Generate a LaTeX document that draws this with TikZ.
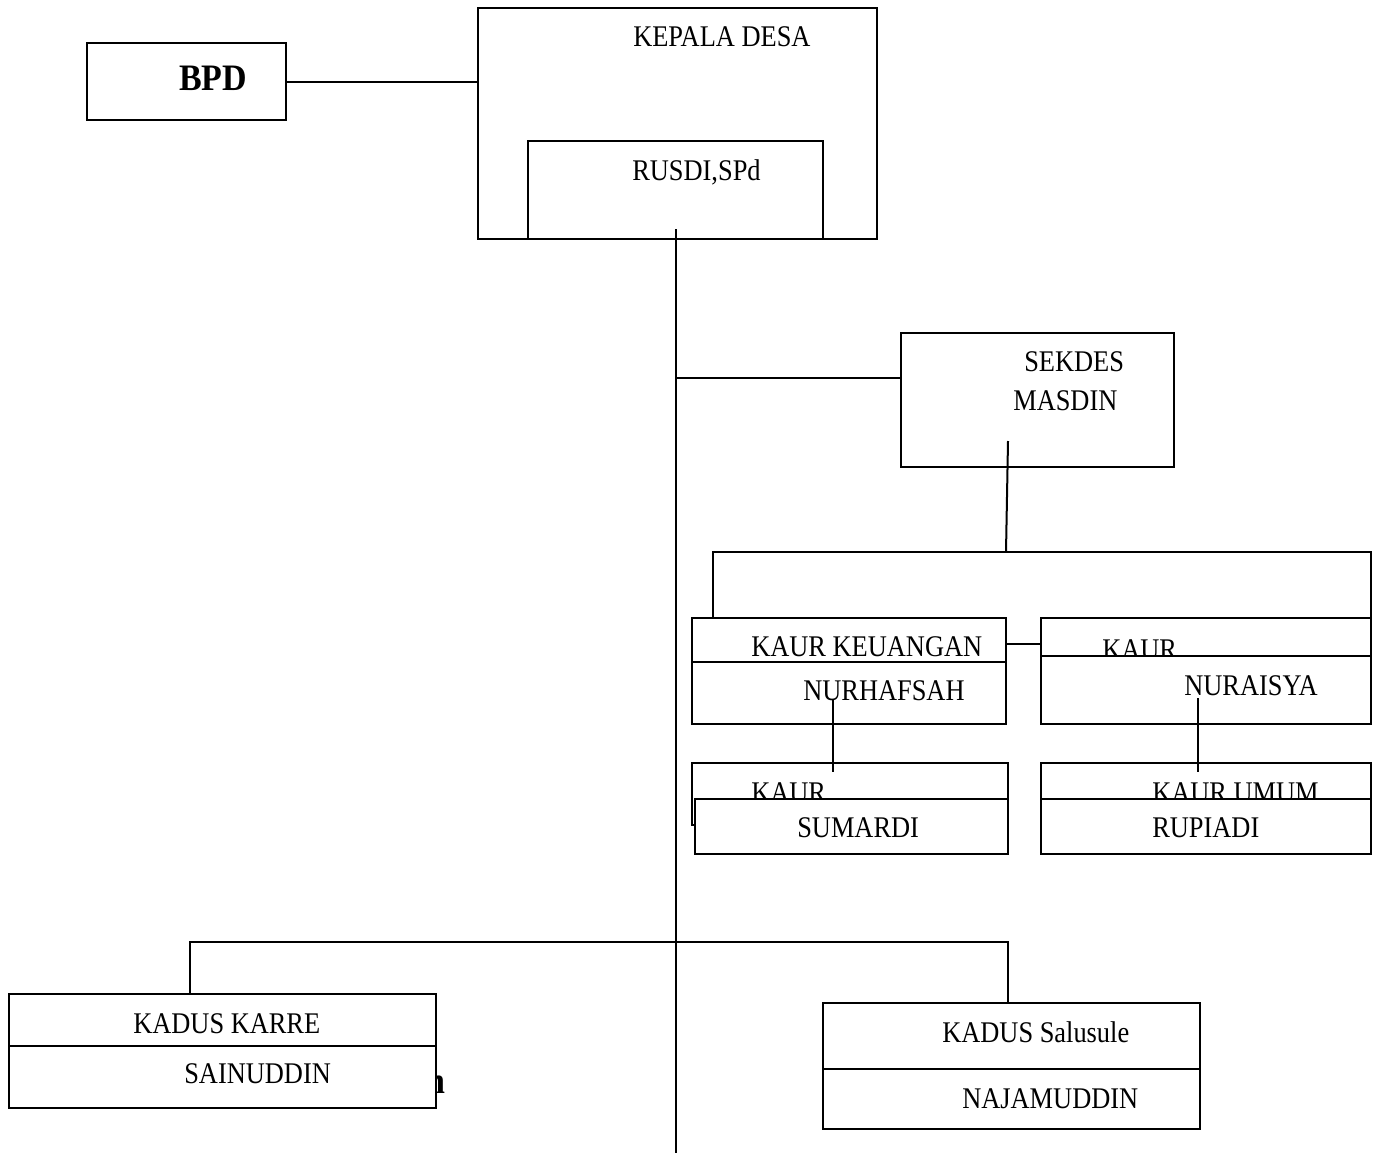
\documentclass[tikz,border=0pt]{standalone}
\usepackage{fontspec}
\setmainfont{Liberation Serif}[FakeStretch=0.88]
\newfontfamily\hurufbpd{Liberation Serif}[FakeStretch=0.91]
\usetikzlibrary{fit}

\begin{document}
\begin{tikzpicture}[x=0.75pt, y=-0.75pt,
    kotak/.style={draw, line width=1.5pt, inner sep=0pt, fill=white},
    teks/.style={anchor=base west, inner sep=0pt, font=\fontsize{22.5}{27}\selectfont},
    garis/.style={line width=1.5pt}]
    \useasboundingbox (0,0) rectangle (1381,1153);

    % Kepala desa
    \node[kotak, fit={(478,8) (877,239)}] (kades) {};
    \node[teks] (kadesteks) at (633,46) {KEPALA DESA};
    \node[kotak, fit={(528,141) (823,239)}] (rusdi) {};
    \node[teks] (rusditeks) at (632,180) {RUSDI,SPd};

    % BPD
    \node[kotak, fit={(87,43) (286,120)}] (bpd) {};
    \node[teks, font=\hurufbpd\bfseries\fontsize{28}{32}\selectfont] (bpdteks) at (179,90) {BPD};
    \draw[garis] (bpd.east) -- (bpd.east -| kades.west);

    % Garis utama
    \coordinate (pusat) at (676,229);
    \coordinate (ujung) at (676,1153);
    \draw[garis] (pusat) -- (ujung);

    % Sekdes
    \node[kotak, fit={(901,333) (1174,467)}] (sekdes) {};
    \node[teks] (sekdesteks) at (1024,371) {SEKDES};
    \node[teks] (masdin) at (1013,410) {MASDIN};
    \coordinate (cabang) at (676,378);
    \draw[garis] (cabang) -- (cabang -| sekdes.west);
    \coordinate (sekatas) at (1008,441);
    \coordinate (sekbawah) at (1006,552);
    \draw[garis] (sekatas) -- (sekbawah);

    % Kaur atas
    \node[kotak, fit={(692,618) (1006,690)}] (keu) {};
    \node[teks] (keuteks) at (751,656) {KAUR KEUANGAN};
    \node[kotak, fit={(692,662) (1006,724)}] (nurhafsah) {};
    \node[teks] (nurhafsahteks) at (803,700) {NURHAFSAH};
    \node[kotak, fit={(1041,618) (1371,680)}] (kaur) {};
    \node[teks] (kaurteks) at (1102,659) {KAUR};
    \node[kotak, fit={(1041,656) (1371,724)}] (nuraisya) {};
    \node[teks] (nuraisyateks) at (1184,695) {NURAISYA};

    \coordinate (kiri) at (713,552);
    \coordinate (kanan) at (1371,552);
    \draw[garis] (kiri |- keu.north) -- (kiri) -- (kanan) -- (kanan |- kaur.north);
    \draw[garis] (keu.east |- 0,644) -- (kaur.west |- 0,644);

    % Kaur bawah
    \node[kotak, fit={(692,763) (1008,825)}] (kaurkiri) {};
    \node[teks] (kaurkiriteks) at (751,802) {KAUR};
    \node[kotak, fit={(695,799) (1008,854)}] (sumardi) {};
    \node[teks] (sumarditeks) at (797,837) {SUMARDI};
    \node[kotak, fit={(1041,763) (1371,825)}] (umum) {};
    \node[teks] (umumteks) at (1152,802) {KAUR UMUM};
    \node[kotak, fit={(1041,799) (1371,854)}] (rupiadi) {};
    \node[teks] (rupiaditeks) at (1152,837) {RUPIADI};

    \coordinate (hafsahgaris) at (833,700);
    \coordinate (aisyagaris) at (1198,698);
    \draw[garis] (hafsahgaris) -- (hafsahgaris |- 0,772);
    \draw[garis] (aisyagaris) -- (aisyagaris |- 0,772);

    % Kadus
    \node[teks, font=\hurufbpd\bfseries\fontsize{28}{32}\selectfont] (sisa) at (426,1093) {n};
    \node[kotak, fit={(9,994) (436,1046)}] (karre) {};
    \node[teks] (karreteks) at (133,1033) {KADUS KARRE};
    \node[kotak, fit={(9,1046) (436,1108)}] (sainuddin) {};
    \node[teks] (sainuddinteks) at (184,1083) {SAINUDDIN};
    \node[kotak, fit={(823,1003) (1200,1069)}] (salusule) {};
    \node[teks] (salusuleteks) at (942,1042) {KADUS Salusule};
    \node[kotak, fit={(823,1069) (1200,1129)}] (najamuddin) {};
    \node[teks] (najamuddinteks) at (962,1108) {NAJAMUDDIN};

    \coordinate (kadkiri) at (190,942);
    \coordinate (kadkanan) at (1008,942);
    \draw[garis] (kadkiri |- karre.north) -- (kadkiri) -- (kadkanan) -- (kadkanan |- salusule.north);
\end{tikzpicture}
\end{document}
